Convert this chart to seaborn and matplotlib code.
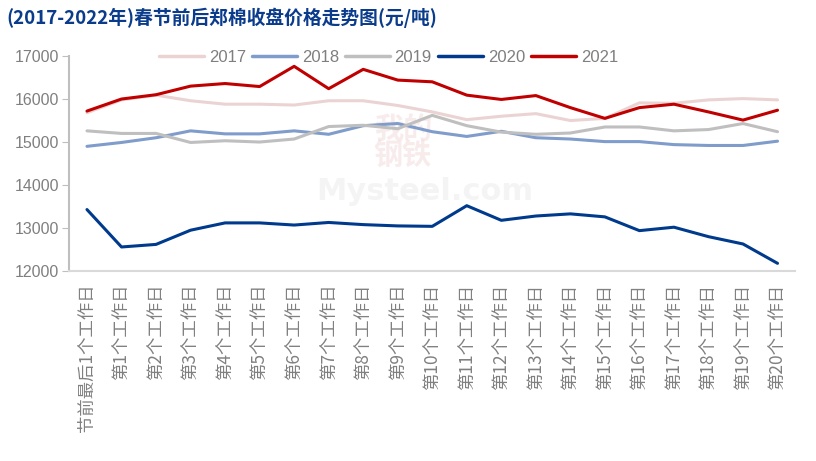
import pandas as pd
import matplotlib.pyplot as plt
import seaborn as sns

# x axis categories
days = ["节前最后1个工作日"] + [f"第{i}个工作日" for i in range(1, 21)]

# closing prices (元/吨)
p2017 = [15680, 15980, 16090, 15960, 15880, 15880, 15860, 15960, 15960, 15850, 15700,
         15520, 15600, 15660, 15500, 15550, 15910, 15900, 15980, 16010, 15980]
p2018 = [14900, 14990, 15100, 15260, 15190, 15190, 15260, 15180, 15380, 15430, 15240,
         15130, 15250, 15100, 15070, 15010, 15010, 14940, 14920, 14920, 15020]
p2019 = [15260, 15200, 15200, 14990, 15030, 15000, 15070, 15360, 15390, 15310, 15620,
         15380, 15230, 15180, 15210, 15350, 15350, 15260, 15290, 15430, 15240]
p2020 = [13430, 12560, 12620, 12950, 13120, 13120, 13070, 13130, 13080, 13050, 13040,
         13520, 13180, 13280, 13330, 13260, 12940, 13020, 12800, 12630, 12180]
p2021 = [15720, 16000, 16100, 16300, 16360, 16290, 16760, 16240, 16690, 16440, 16400,
         16090, 15990, 16080, 15800, 15550, 15800, 15880, 15700, 15510, 15740]

years = ["2017", "2018", "2019", "2020", "2021"]
colors = ["#EBD3D3", "#7F9CCB", "#BFBFBF", "#003A8C", "#C00000"]

df = pd.DataFrame({"2017": p2017, "2018": p2018, "2019": p2019,
                   "2020": p2020, "2021": p2021})
df["pos"] = range(len(days))
df_long = df.melt(id_vars="pos", var_name="year", value_name="price")

sns.set_style("white")
plt.rcParams["font.family"] = ["Noto Sans CJK SC", "DejaVu Sans"]

fig = plt.figure(figsize=(8.16, 4.61), dpi=100)
ax = fig.add_axes([0.0846, 0.412, 0.8894, 0.4665])

sns.lineplot(data=df_long, x="pos", y="price", hue="year", hue_order=years,
             palette=colors, linewidth=2.2, ax=ax)

ax.set_xlim(-0.52, 20.5)
ax.set_ylim(12000, 17000)
ax.set_yticks(range(12000, 17001, 1000))
ax.set_xticks(range(len(days)))
ax.set_xticklabels(days, rotation=90, fontsize=12.5, color="#808080")
ax.tick_params(axis="y", labelsize=11.5, labelcolor="#7F7F7F", length=5,
               color="#BFBFBF", direction="out", left=True, pad=2)
ax.tick_params(axis="x", length=0, pad=9)
for lab in ax.get_yticklabels():
    lab.set_family("Liberation Sans")
ax.set_xlabel("")
ax.set_ylabel("")
sns.despine(ax=ax)
ax.spines["left"].set_color("#BFBFBF")
ax.spines["left"].set_linewidth(1.5)
ax.spines["bottom"].set_color("#D9D9D9")
ax.spines["bottom"].set_linewidth(1.5)

leg = ax.legend(loc="upper center", bbox_to_anchor=(0.44, 1.1), ncol=5,
                frameon=False, fontsize=12, handlelength=2.7,
                columnspacing=0.35, handletextpad=0.3)
for t in leg.get_texts():
    t.set_color("#7F7F7F")
    t.set_family("Liberation Sans")
for h in leg.get_lines():
    h.set_linewidth(2.5)

# faint watermark
ax.text(0.46, 0.6, "我的\n钢铁", transform=ax.transAxes, ha="center", va="center",
        fontsize=21, fontweight="bold", color="#F3D9D9", alpha=0.5, zorder=0,
        linespacing=0.85)
ax.text(0.49, 0.37, "Mysteel.com", transform=ax.transAxes, ha="center", va="center",
        fontsize=22, fontweight="bold", color="#EEEEEE", alpha=0.6, zorder=0,
        family="DejaVu Sans")

fig.text(0.008, 0.962, "(2017-2022年)春节前后郑棉收盘价格走势图(元/吨)",
         fontsize=13.5, fontweight="bold", color="#0B3C8C", va="center")

fig.savefig("out.png", dpi=100)
